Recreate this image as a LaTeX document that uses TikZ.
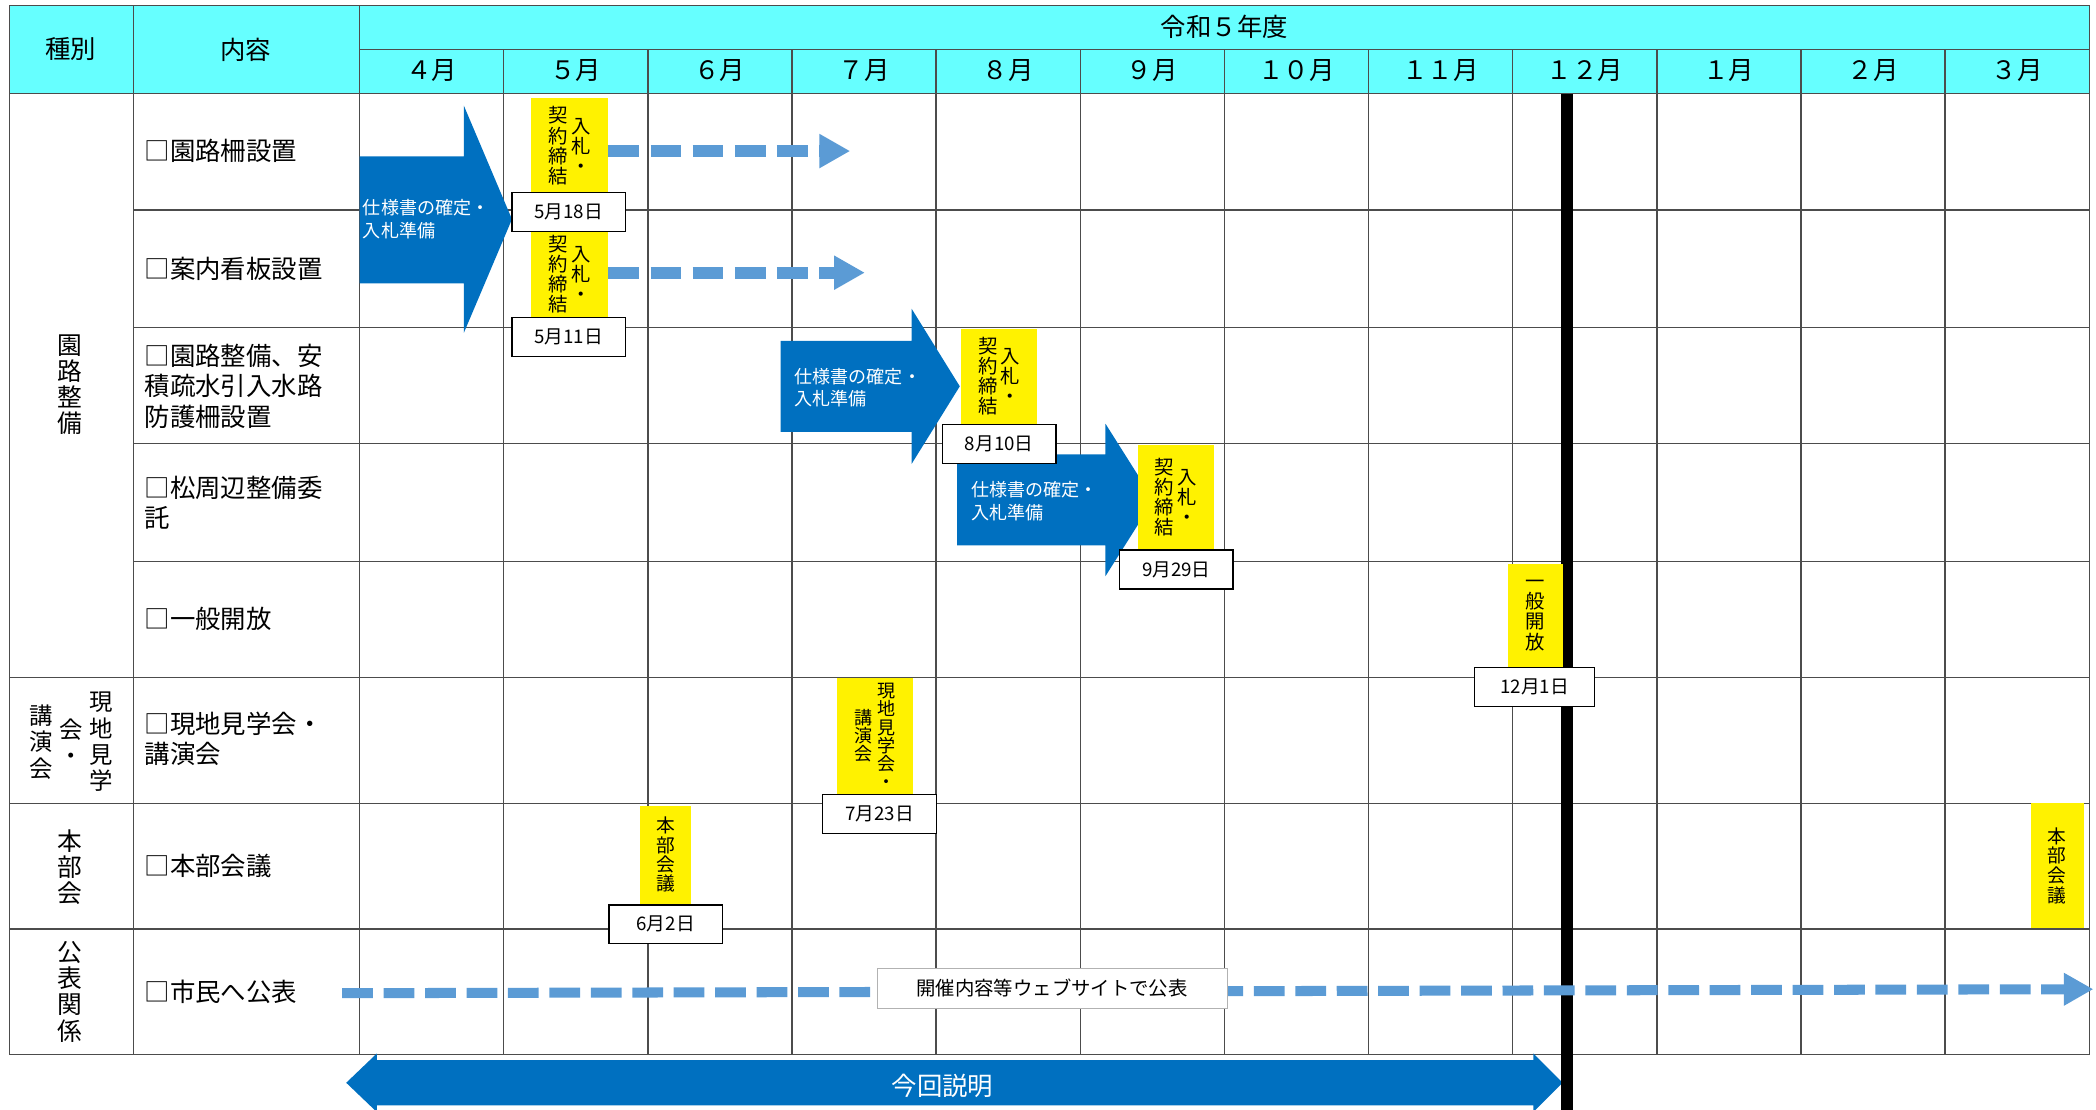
\documentclass[tikz,border=0pt]{standalone}
\usepackage{fontspec}
\setmainfont{Noto Sans CJK JP}
\usetikzlibrary{arrows.meta}
\definecolor{hdrcyan}{HTML}{66FFFF}
\definecolor{barblue}{HTML}{0070C0}
\definecolor{dashblue}{HTML}{5B9BD5}
\newcommand\tate[1]{\parbox[c]{1em}{\centering #1}}

\begin{document}
\begin{tikzpicture}[x=1pt,y=-1pt,
    grid line/.style={draw=black!70,line width=1pt},
    head node/.style={font=\fontsize{19}{22}\selectfont},
    item node/.style={anchor=west,align=left,inner sep=2pt,font=\fontsize{19}{22.5}\selectfont},
    kind node/.style={inner sep=0pt,font=\fontsize{18.5}{19.5}\selectfont},
    mark node/.style={fill=yellow,inner sep=0pt,font=\fontsize{14.5}{15}\selectfont},
    date node/.style={draw=black,fill=white,line width=1pt,minimum width=85pt,minimum height=29pt,inner sep=0pt,font=\fontsize{14}{16}\selectfont},
    arrow text/.style={anchor=west,align=left,text=white,font=\fontsize{13.5}{17}\selectfont},
    plan arrow/.style={draw=dashblue,line width=9pt,dash pattern=on 23pt off 8.5pt,-{Triangle[length=23pt,width=24pt]}}]
    \useasboundingbox (0,0) rectangle (1568,830);
    % table
    \fill[hdrcyan] (7,4) rectangle (1563,70);
    \draw[grid line] (7,4) rectangle (1563,789);
    \draw[grid line] (100,4) -- (100,789) (269,4) -- (269,789) (269,37) -- (1563,37) (7,70) -- (1563,70);
    \foreach \i in {1,...,11} \draw[grid line] ({269+107.83*\i},37) -- ({269+107.83*\i},789);
    \foreach \y in {157,245,332,420} \draw[grid line] (100,\y) -- (1563,\y);
    \foreach \y in {507,601,695} \draw[grid line] (7,\y) -- (1563,\y);
    \node[head node] (kind) at (53,37) {種別};
    \node[head node] (item) at (184,37) {内容};
    \node[head node] (year) at (916,20) {令和５年度};
    \foreach \m [count=\i] in {４月,５月,６月,７月,８月,９月,１０月,１１月,１２月,１月,２月,３月}
        \node[head node] (month\i) at ({269+107.83*(\i-0.5)},53) {\m};
    % rows
    \node[kind node] (road) at (52,288) {\tate{園\\路\\整\\備}};
    \node[kind node,font=\fontsize{17.5}{19.7}\selectfont] (talk) at (53,555) {\tate{講\\演\\会}\hspace{5pt}\tate{会\\・}\hspace{5pt}\tate{現\\地\\見\\学}};
    \node[kind node] (hq) at (52,649) {\tate{本\\部\\会}};
    \node[kind node] (press) at (52,742) {\tate{公\\表\\関\\係}};
    \node[item node] (fence) at (106,113) {□園路柵設置};
    \node[item node] (sign) at (106,201) {□案内看板設置};
    \node[item node] (path) at (106,289) {□園路整備、安\\積疏水引入水路\\防護柵設置};
    \node[item node] (pine) at (106,376) {□松周辺整備委\\託};
    \node[item node] (open) at (106,463) {□一般開放};
    \node[item node] (tour) at (106,553) {□現地見学会・\\講演会};
    \node[item node] (meet) at (106,648) {□本部会議};
    \node[item node] (pub) at (106,742) {□市民へ公表};
    % preparation arrows
    \fill[barblue] (269,117) -- (347,117) -- (347,79) -- (383,164) -- (347,249) -- (347,212) -- (269,212) -- cycle;
    \node[arrow text] (prep1) at (268,164) {仕様書の確定・\\入札準備};
    \fill[barblue] (584,255) -- (682,255) -- (682,231) -- (718,289) -- (682,347) -- (682,323) -- (584,323) -- cycle;
    \node[arrow text] (prep2) at (591,290) {仕様書の確定・\\入札準備};
    \fill[barblue] (716,340) -- (827,340) -- (827,317) -- (863,374) -- (827,431) -- (827,408) -- (716,408) -- cycle;
    \node[arrow text] (prep3) at (723,375) {仕様書の確定・\\入札準備};
    \fill[barblue] (259,810) -- (282,788) -- (282,793) -- (1147,793) -- (1147,788) -- (1169,810) -- (1147,832) -- (1147,827) -- (282,827) -- (282,832) -- cycle;
    \node[text=white,font=\fontsize{19}{22}\selectfont] (now) at (705,812) {今回説明};
    \draw[line width=9pt] (1172.5,70) -- (1172.5,830);
    % events
    \node[mark node,minimum width=58pt,minimum height=72pt] (bid1) at (426,109) {\tate{契\\約\\締\\結}\hspace{2.5pt}\tate{入\\札\\・}};
    \node[mark node,minimum width=58pt,minimum height=66pt] (bid2) at (426,205) {\tate{契\\約\\締\\結}\hspace{2.5pt}\tate{入\\札\\・}};
    \node[mark node,minimum width=57pt,minimum height=71pt] (bid3) at (747.5,281.5) {\tate{契\\約\\締\\結}\hspace{2.5pt}\tate{入\\札\\・}};
    \node[mark node,minimum width=57pt,minimum height=78pt] (bid4) at (879.5,372) {\tate{契\\約\\締\\結}\hspace{2.5pt}\tate{入\\札\\・}};
    \node[mark node,minimum width=41pt,minimum height=77pt] (opening) at (1148.5,460.5) {\tate{一\\般\\開\\放}};
    \node[mark node,minimum width=57pt,minimum height=87pt,font=\fontsize{13.5}{13.5}\selectfont] (visit) at (654.5,550.5) {\tate{講\\演\\会}\hspace{3.5pt}\tate{現\\地\\見\\学\\会\\・}};
    \node[mark node,minimum width=38pt,minimum height=73pt,font=\fontsize{14}{14.5}\selectfont] (board1) at (498,639.5) {\tate{本\\部\\会\\議}};
    \node[mark node,minimum width=40pt,minimum height=93pt,font=\fontsize{14}{14.7}\selectfont] (board2) at (1539,647.5) {\tate{本\\部\\会\\議}};
    \coordinate (end1) at (636,113);
    \coordinate (end2) at (647,204);
    \draw[plan arrow] (bid1.east |- end1) -- (end1);
    \draw[plan arrow] (bid2.east |- end2) -- (end2);
    \node[date node] (d1) at (425.5,158.5) {5月18日};
    \node[date node] (d2) at (425.5,252) {5月11日};
    \node[date node] (d3) at (747.5,332) {8月10日};
    \node[date node] (d4) at (880,426) {9月29日};
    \node[date node,minimum width=90pt] (d5) at (1148,514) {12月1日};
    \node[date node] (d6) at (658,609) {7月23日};
    \node[date node] (d7) at (498,691.5) {6月2日};
    % publication
    \coordinate (pubstart) at (256,743);
    \coordinate (pubend) at (1566,740);
    \draw[plan arrow,line width=7.5pt,dash pattern=on 23pt off 8pt,-{Triangle[length=22pt,width=23pt]}] (pubstart) -- (pubend);
    \node[draw=black!30,fill=white,minimum width=262pt,minimum height=30pt,font=\fontsize{14.5}{16}\selectfont] (web) at (787,739) {開催内容等ウェブサイトで公表};
\end{tikzpicture}
\end{document}
